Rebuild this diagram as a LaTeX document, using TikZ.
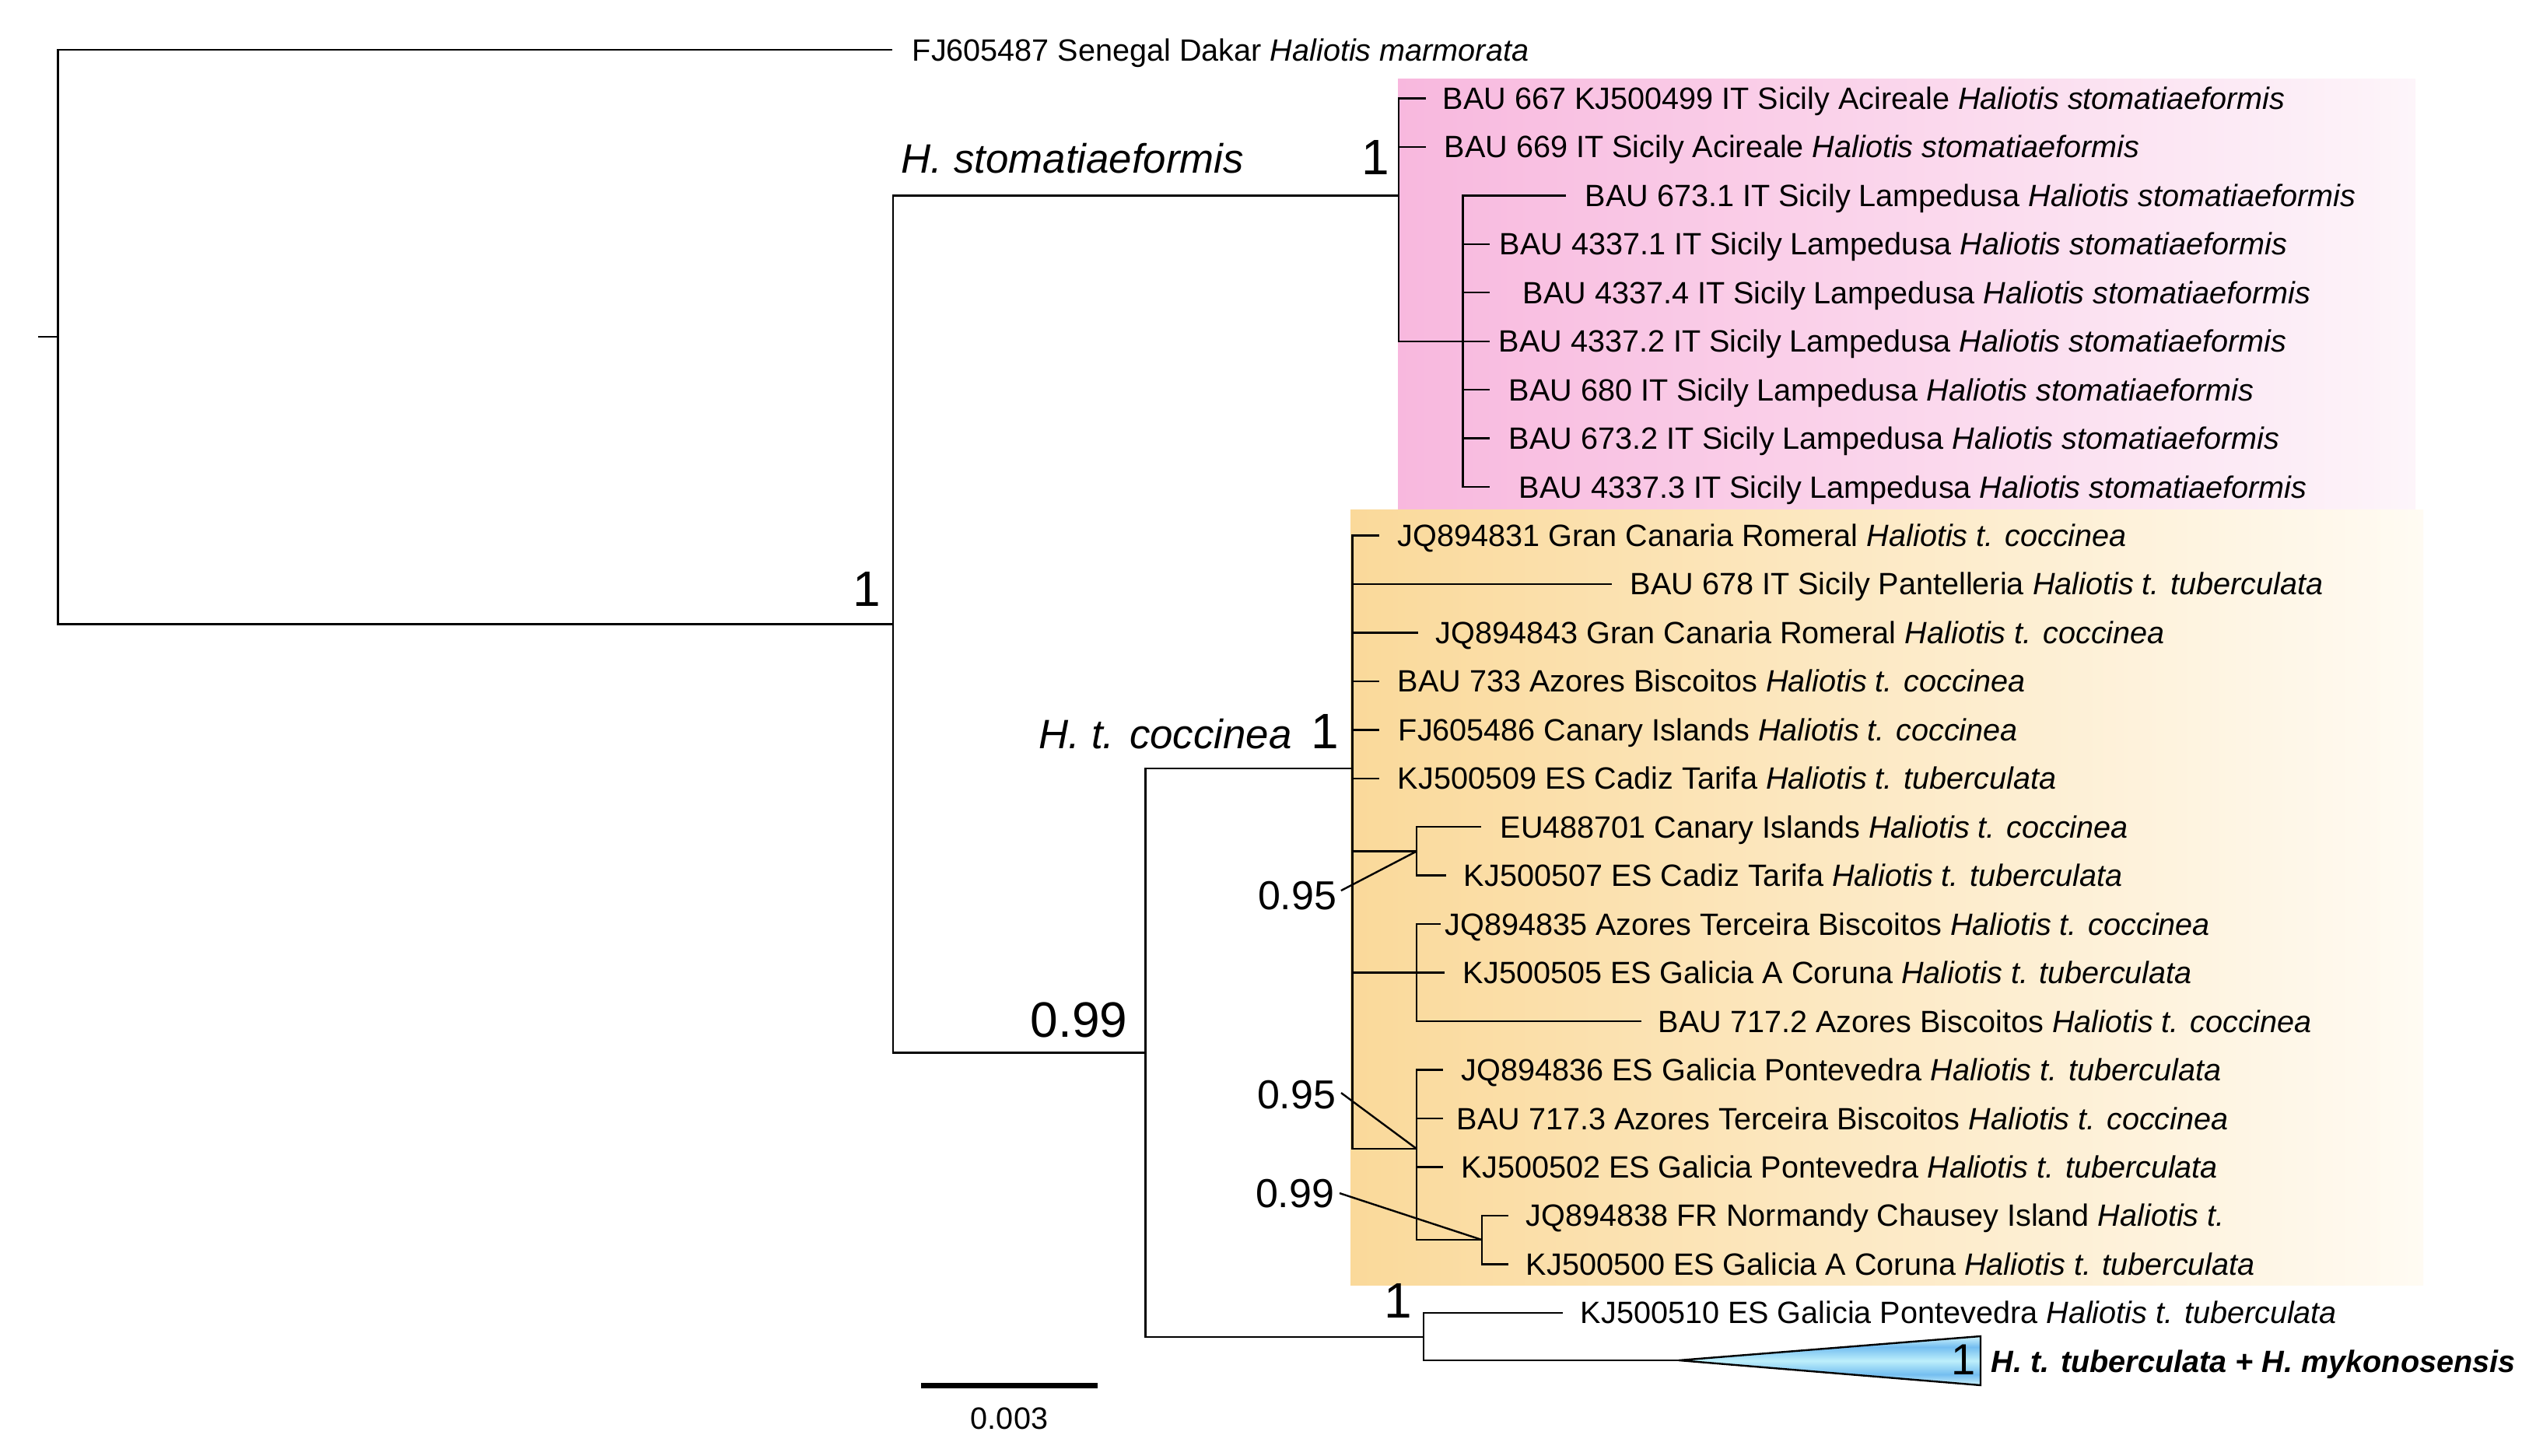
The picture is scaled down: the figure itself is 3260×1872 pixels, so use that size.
\documentclass[tikz,border=0pt]{standalone}
\usepackage{fontspec}
\setmainfont{Liberation Sans}
\definecolor{pinkL}{HTML}{F8B8DE}
\definecolor{pinkR}{HTML}{FDF5FA}
\definecolor{cocL}{HTML}{FAD99A}
\definecolor{cocR}{HTML}{FFFBF3}
\definecolor{tl}{HTML}{CDF3FC}
\definecolor{tb}{HTML}{74BEF0}
\definecolor{tm}{HTML}{BDEFFB}
\pgfdeclareverticalshading{trishade}{100bp}{color(0bp)=(tl); color(25bp)=(tl); color(36bp)=(tb); color(50bp)=(tm); color(64bp)=(tb); color(75bp)=(tl); color(100bp)=(tl)}
\begin{document}
\begin{tikzpicture}[x=0.25pt,y=-0.25pt,
  br/.style={line width=0.6pt},
  leader/.style={line width=0.6pt},
  leaf/.style={anchor=base west,inner sep=0pt,font=\fontsize{9.9}{12}\selectfont},
  supp/.style={anchor=base east,inner sep=0pt,font=\fontsize{16}{19}\selectfont},
  suppsm/.style={anchor=base east,inner sep=0pt,font=\fontsize{13}{16}\selectfont},
  cladelbl/.style={anchor=base west,inner sep=0pt,font=\fontsize{13.2}{16}\selectfont\itshape}]
\useasboundingbox (0,0) rectangle (3260,1872);
% clade boxes
\fill[left color=pinkL,right color=pinkR] (1797,102) rectangle (3105,656);
\fill[left color=cocL,right color=cocR] (1736,656) rectangle (3115,1652);
% internal nodes
\coordinate (rootstub) at (49,433.3);
\coordinate (R) at (74.5,433.3);
\coordinate (N1) at (1148,802.4);
\coordinate (S) at (1798,251.4);
\coordinate (S2) at (1880.5,438.8);
\coordinate (C99) at (1472.5,1353.5);
\coordinate (C) at (1738.5,987.9);
\coordinate (A) at (1821,1094.5);
\coordinate (B) at (1821,1250.6);
\coordinate (Cc) at (1821,1477);
\coordinate (D) at (1905,1594.1);
\coordinate (T) at (1830,1719);
% tips
\coordinate (tFJ) at (1147,64.1);
\coordinate (t0) at (1833,126.5);
\coordinate (t1) at (1833,189.0);
\coordinate (t2) at (2013,251.4);
\coordinate (t3) at (1915,313.9);
\coordinate (t4) at (1915,376.3);
\coordinate (t5) at (1915,438.8);
\coordinate (t6) at (1915,501.2);
\coordinate (t7) at (1915,563.7);
\coordinate (t8) at (1915,626.1);
\coordinate (t9) at (1773,688.6);
\coordinate (t10) at (2072,751.0);
\coordinate (t11) at (1823,813.5);
\coordinate (t12) at (1773,875.9);
\coordinate (t13) at (1773,938.4);
\coordinate (t14) at (1773,1000.8);
\coordinate (t15) at (1904,1063.3);
\coordinate (t16) at (1859,1125.7);
\coordinate (t17) at (1852,1188.2);
\coordinate (t18) at (1857,1250.6);
\coordinate (t19) at (2110,1313.1);
\coordinate (t20) at (1855,1375.5);
\coordinate (t21) at (1855,1438.0);
\coordinate (t22) at (1855,1500.4);
\coordinate (t23) at (1939,1562.9);
\coordinate (t24) at (1939,1625.3);
\coordinate (t25) at (2009,1687.8);
\coordinate (apex) at (2158,1749);
\coordinate (triT) at (2546,1718);
\coordinate (triB) at (2546,1781);
% branches
\draw[br] (rootstub) -- (R);
\draw[br] (R) |- (tFJ);
\draw[br] (R) |- (N1);
\draw[br] (N1) |- (S);
\draw[br] (N1) |- (C99);
\foreach \t in {t0,t1,S2} \draw[br] (S) |- (\t);
\foreach \t in {t2,t3,t4,t5,t6,t7,t8} \draw[br] (S2) |- (\t);
\draw[br] (C99) |- (C);
\draw[br] (C99) |- (T);
\foreach \t in {t9,t10,t11,t12,t13,t14,A,B,Cc} \draw[br] (C) |- (\t);
\foreach \t in {t15,t16} \draw[br] (A) |- (\t);
\foreach \t in {t17,t18,t19} \draw[br] (B) |- (\t);
\foreach \t in {t20,t21,t22,D} \draw[br] (Cc) |- (\t);
\foreach \t in {t23,t24} \draw[br] (D) |- (\t);
\draw[br] (T) |- (t25);
\draw[br] (T) |- (apex);
% collapsed clade
\shade[shading=trishade] (apex) -- (triT) -- (triB) -- cycle;
\draw[br] (apex) -- (triT) -- (triB) -- cycle;
% leaf labels
\node[leaf] (LFJ) at (1172,78.1) {FJ605487 Senegal Dakar \textit{Haliotis marmorata}};
\node[leaf] (L0) at (1854,140.5) {BAU 667 KJ500499 IT Sicily Acireale \textit{Haliotis stomatiaeformis}};
\node[leaf] (L1) at (1856,203.0) {BAU 669 IT Sicily Acireale \textit{Haliotis stomatiaeformis}};
\node[leaf] (L2) at (2037,265.4) {BAU 673.1 IT Sicily Lampedusa \textit{Haliotis stomatiaeformis}};
\node[leaf] (L3) at (1927,327.9) {BAU 4337.1 IT Sicily Lampedusa \textit{Haliotis stomatiaeformis}};
\node[leaf] (L4) at (1957,390.3) {BAU 4337.4 IT Sicily Lampedusa \textit{Haliotis stomatiaeformis}};
\node[leaf] (L5) at (1926,452.8) {BAU 4337.2 IT Sicily Lampedusa \textit{Haliotis stomatiaeformis}};
\node[leaf] (L6) at (1939,515.2) {BAU 680 IT Sicily Lampedusa \textit{Haliotis stomatiaeformis}};
\node[leaf] (L7) at (1939,577.7) {BAU 673.2 IT Sicily Lampedusa \textit{Haliotis stomatiaeformis}};
\node[leaf] (L8) at (1952,640.1) {BAU 4337.3 IT Sicily Lampedusa \textit{Haliotis stomatiaeformis}};
\node[leaf] (L9) at (1796,702.6) {JQ894831 Gran Canaria Romeral \textit{Haliotis t. coccinea}};
\node[leaf] (L10) at (2095,765.0) {BAU 678 IT Sicily Pantelleria \textit{Haliotis t. tuberculata}};
\node[leaf] (L11) at (1845,827.5) {JQ894843 Gran Canaria Romeral \textit{Haliotis t. coccinea}};
\node[leaf] (L12) at (1796,889.9) {BAU 733 Azores Biscoitos \textit{Haliotis t. coccinea}};
\node[leaf] (L13) at (1797,952.4) {FJ605486 Canary Islands \textit{Haliotis t. coccinea}};
\node[leaf] (L14) at (1796,1014.8) {KJ500509 ES Cadiz Tarifa \textit{Haliotis t. tuberculata}};
\node[leaf] (L15) at (1928,1077.3) {EU488701 Canary Islands \textit{Haliotis t. coccinea}};
\node[leaf] (L16) at (1881,1139.7) {KJ500507 ES Cadiz Tarifa \textit{Haliotis t. tuberculata}};
\node[leaf] (L17) at (1857,1202.2) {JQ894835 Azores Terceira Biscoitos \textit{Haliotis t. coccinea}};
\node[leaf] (L18) at (1880,1264.6) {KJ500505 ES Galicia A Coruna \textit{Haliotis t. tuberculata}};
\node[leaf] (L19) at (2131,1327.1) {BAU 717.2 Azores Biscoitos \textit{Haliotis t. coccinea}};
\node[leaf] (L20) at (1878,1389.5) {JQ894836 ES Galicia Pontevedra \textit{Haliotis t. tuberculata}};
\node[leaf] (L21) at (1872,1452.0) {BAU 717.3 Azores Terceira Biscoitos \textit{Haliotis t. coccinea}};
\node[leaf] (L22) at (1878,1514.4) {KJ500502 ES Galicia Pontevedra \textit{Haliotis t. tuberculata}};
\node[leaf] (L23) at (1961,1576.9) {JQ894838 FR Normandy Chausey Island \textit{Haliotis t.}};
\node[leaf] (L24) at (1961,1639.3) {KJ500500 ES Galicia A Coruna \textit{Haliotis t. tuberculata}};
\node[leaf] (L25) at (2031,1701.8) {KJ500510 ES Galicia Pontevedra \textit{Haliotis t. tuberculata}};
\node[leaf,font=\fontsize{9.9}{12}\selectfont\bfseries\itshape] (L26) at (2559,1764.2) {H. t. tuberculata + H. mykonosensis};
% clade names
\node[cladelbl] (nS) at (1158,223) {H. stomatiaeformis};
\node[cladelbl] (nC) at (1335,962) {H. t. coccinea};
% support values
\node[supp] (sN1) at (1133,780) {1};
\node[supp] (sS) at (1787,225) {1};
\node[supp] (sC) at (1722,962) {1};
\node[supp] (sC99) at (1450,1333) {0.99};
\node[supp] (sT) at (1816,1694) {1};
\node[supp,font=\fontsize{14}{17}\selectfont] (sTri) at (2540,1767) {1};
\node[suppsm] (sA) at (1719,1169) {0.95};
\node[suppsm] (sB) at (1718,1425) {0.95};
\node[suppsm] (sD) at (1716,1552) {0.99};
\draw[leader] ([xshift=1.2pt,yshift=1.5pt]sA.east) -- (A);
\draw[leader] ([xshift=1.5pt,yshift=0.5pt]sB.east) -- (Cc);
\draw[leader] ([xshift=1.5pt]sD.east) -- (D);
% scale bar
\coordinate (sb1) at (1184,1781);
\coordinate (sb2) at (1411,1781);
\draw[line width=1.75pt] (sb1) -- (sb2);
\node[anchor=base,inner sep=0pt,font=\fontsize{9.9}{12}\selectfont] (sbl) at (1297.5,1837) {0.003};
\end{tikzpicture}
\end{document}
